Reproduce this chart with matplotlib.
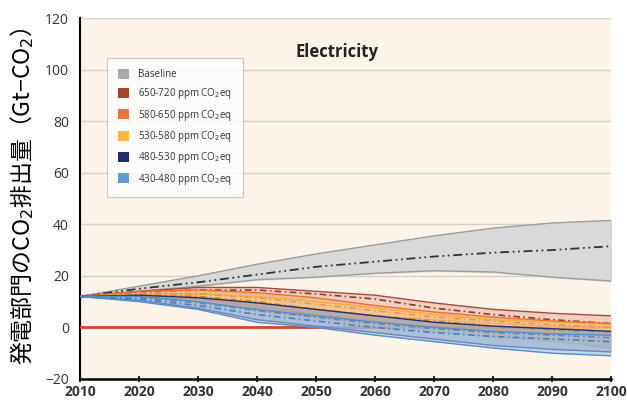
import matplotlib
matplotlib.use("Agg")
import matplotlib.pyplot as plt
from matplotlib.patches import Patch

plt.rcParams['font.family'] = ['Open Sans', 'DejaVu Sans']

years = [2010, 2020, 2030, 2040, 2050, 2060, 2070, 2080, 2090, 2100]

base_med = [12, 15, 17.5, 20.5, 23.5, 25.5, 27.5, 29, 30, 31.5]
base_hi = [12, 16, 20, 24.5, 28.5, 32, 35.5, 38.5, 40.5, 41.5]
base_lo = [12, 14, 16, 18.5, 19.5, 21, 22, 21.5, 19.5, 18]

s650_med = [12, 13.5, 14.5, 14.5, 13, 11, 7.5, 5, 3, 1.5]
s650_hi = [12, 14, 15.5, 15.5, 14, 12.5, 9.5, 7, 5.5, 4.5]
s650_lo = [12, 12.5, 12, 9.5, 7, 4.5, 3, 1.5, 0.5, 0]

s580_med = [12, 13, 13, 11.5, 9, 6.5, 4, 2.5, 1, 0]
s580_hi = [12, 14, 14.5, 13.5, 11.5, 8.5, 6, 4, 2.5, 1.5]
s580_lo = [12, 12, 11, 8, 5, 2.5, 0, -2.5, -5, -8]

s530_med = [12, 12.5, 12, 10, 7, 4.5, 2.5, 0.5, -1, -2]
s530_hi = [12, 13, 13, 12, 10, 7.5, 5, 3, 2, 1]
s530_lo = [12, 11.5, 10, 6.5, 3.5, 1, -1.5, -3.5, -5.5, -7]

s480_med = [12, 11.5, 9.5, 6.5, 4, 1.5, -0.5, -2, -3, -4]
s480_hi = [12, 12.5, 11.5, 9.5, 7, 4.5, 2, 0.5, -0.5, -1.5]
s480_lo = [12, 10.5, 7.5, 3, 0.5, -2, -4.5, -7, -8.5, -9.5]

s430_med = [12, 11, 8.5, 5, 2.5, 0, -2, -3.5, -4.5, -5.5]
s430_hi = [12, 12, 10, 7, 4.5, 2, 0, -1.5, -2.5, -3]
s430_lo = [12, 10, 7, 2, 0, -3, -5.5, -8, -10, -11]

labels = ["Baseline", "650-720 ppm CO$_2$eq", "580-650 ppm CO$_2$eq",
          "530-580 ppm CO$_2$eq", "480-530 ppm CO$_2$eq", "430-480 ppm CO$_2$eq"]

fig = plt.figure(figsize=(6.27, 4.03), dpi=100)
ax = fig.add_axes([80/627, 1 - 379/403, 531/627, 361/403])
ax.set_facecolor('#FCF4E9')

for v in [20, 40, 60, 80, 100, 120]:
    ax.axhline(v, color='#D6D0C6', lw=1.0, zorder=0)

# Baseline
ax.fill_between(years, base_lo, base_hi, color='#D9D9D9', zorder=1)
ax.plot(years, base_hi, color='#9C9C9C', lw=1.0, zorder=2)
ax.plot(years, base_lo, color='#9C9C9C', lw=1.0, zorder=2)
ax.plot(years, base_med, color='#333333', lw=1.3, ls=(0, (5, 2, 1, 2, 1, 2)), zorder=3)

series = [
    (s650_lo, s650_hi, s650_med, '#EDB5A4', '#A5473A', '#8A3A2E'),
    (s580_lo, s580_hi, s580_med, '#F5A878', '#E8702E', '#B8561F'),
    (s530_lo, s530_hi, s530_med, '#F8CC85', '#F2AF3A', '#C98A20'),
    (s480_lo, s480_hi, s480_med, '#9199B8', '#22306E', '#2A3466'),
    (s430_lo, s430_hi, s430_med, '#A0C2E4', '#4F8FD0', '#4F7FB0'),
]
z = 4
for lo, hi, med, fc, ec, mc in series:
    ax.fill_between(years, lo, hi, color=fc, alpha=0.6, zorder=z, lw=0)
    ax.plot(years, hi, color=ec, lw=1.0, zorder=z + 1)
    ax.plot(years, lo, color=ec, lw=1.0, zorder=z + 1)
    ax.plot(years, med, color=mc, lw=1.2, ls=(0, (4, 2, 1, 2)), zorder=z + 2)
    z += 3

ax.axhline(0, color='#D8432C', lw=2.0, zorder=3)

ax.set_xlim(2010, 2100)
ax.set_ylim(-20, 120)
ax.set_xticks(years)
ax.set_yticks([-20, 0, 20, 40, 60, 80, 100, 120])
ax.tick_params(axis='x', direction='inout', length=5, width=1.2, labelsize=10, pad=2)
ax.tick_params(axis='y', length=0, labelsize=10, labelcolor='#333333', pad=8)
for lab in ax.get_xticklabels():
    lab.set_fontweight('bold')
    lab.set_color('#333333')
for s in ['top', 'right']:
    ax.spines[s].set_visible(False)
ax.spines['left'].set_linewidth(1.5)
ax.spines['bottom'].set_linewidth(1.8)

ax.text(0.484, 0.905, "Electricity", transform=ax.transAxes, ha='center', va='center',
        fontsize=12, fontweight='bold', color='#222222')

handles = [Patch(facecolor=c, edgecolor='none') for c in
           ['#ABA8AE', '#A5432C', '#EA7435', '#F6B73C', '#1F2E6E', '#5C9BD6']]
leg = ax.legend(handles, labels, loc='upper left', bbox_to_anchor=(0.051, 0.889),
                borderaxespad=0,
                fontsize=7, frameon=True, fancybox=False, handlelength=1.2,
                handleheight=1.2, labelspacing=0.65, borderpad=1.1, handletextpad=0.9)
leg.get_frame().set_edgecolor('#BBBBBB')
leg.get_frame().set_linewidth(0.8)
leg.get_frame().set_facecolor('white')
for t in leg.get_texts():
    t.set_color('#333333')

fig.text(22/627, 1 - 196/403, "発電部門のCO$_2$排出量（Gt−CO$_2$）", rotation=90,
         ha='center', va='center', fontsize=16.5,
         family=['Noto Sans CJK JP', 'DejaVu Sans'])

fig.savefig("out.png", dpi=100, facecolor='white')
